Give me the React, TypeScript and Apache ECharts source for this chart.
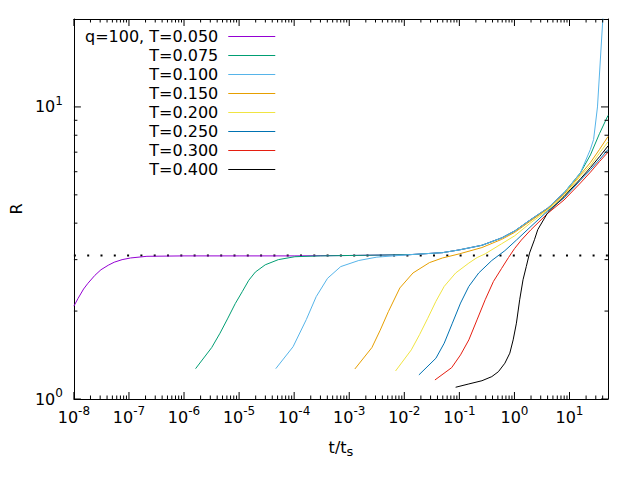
import React, { useEffect, useRef } from "react";
import * as echarts from "echarts";

const X_MIN = 1e-8;
const X_MAX = 50;
const Y_MIN = 1;
const Y_MAX = 20;
const R_LIMIT = 3.1;

const FONT = "DejaVu Sans";

const seriesNames = [
  "q=100, T=0.050",
  "T=0.075",
  "T=0.100",
  "T=0.150",
  "T=0.200",
  "T=0.250",
  "T=0.300",
  "T=0.400",
];
const seriesColors = [
  "#9400d3",
  "#009e73",
  "#56b4e9",
  "#e69f00",
  "#f0e442",
  "#0072b2",
  "#e51e10",
  "#000000",
];

const curveT050: [number, number][] = [
  [1e-8, 2.08], [1.19e-8, 2.21], [1.5e-8, 2.38], [1.8e-8, 2.49], [2.4e-8, 2.65],
  [3.1e-8, 2.77], [4.2e-8, 2.87], [5.4e-8, 2.94], [7.5e-8, 3.0], [1.07e-7, 3.04],
  [2.12e-7, 3.08], [1e-6, 3.09], [1e-5, 3.09], [1e-4, 3.09], [1e-3, 3.1],
  [0.0125, 3.12], [0.0494, 3.17], [0.1, 3.24], [0.257, 3.36], [0.585, 3.56],
  [1.01, 3.76], [2.0, 4.12], [4.01, 4.5], [7.94, 5.08],
];
const curveT075: [number, number][] = [
  [1.62e-6, 1.27], [3.18e-6, 1.5], [4.5e-6, 1.68], [6.15e-6, 1.88], [8.5e-6, 2.12],
  [1.14e-5, 2.33], [1.5e-5, 2.55], [1.97e-5, 2.72], [2.98e-5, 2.88], [5.15e-5, 3.0],
  [1.03e-4, 3.07], [3e-4, 3.09], [1e-3, 3.1], [0.0125, 3.12], [0.0494, 3.17],
  [0.1, 3.24], [0.257, 3.36], [0.585, 3.56], [1.01, 3.76], [2.0, 4.12], [4.01, 4.5],
  [7.94, 5.08], [15.8, 5.95], [24, 6.85], [35, 8.1], [50, 9.35],
];
const curveT100: [number, number][] = [
  [4.63e-5, 1.27], [9.55e-5, 1.51], [1.66e-4, 1.87], [2.51e-4, 2.24], [4.04e-4, 2.59],
  [7.0e-4, 2.84], [1.49e-3, 2.98], [3.17e-3, 3.06], [0.0125, 3.12], [0.0494, 3.17],
  [0.1, 3.24], [0.257, 3.36], [0.585, 3.56], [1.01, 3.76], [2.0, 4.12], [4.01, 4.5],
  [7.94, 5.08], [15.8, 5.95], [23.9, 7.15], [27.4, 7.74], [32.2, 10], [40.3, 20], [43, 30],
];
const curveT150: [number, number][] = [
  [1.265e-3, 1.267], [2.58e-3, 1.5], [3.65e-3, 1.72], [5.13e-3, 1.99], [8.3e-3, 2.4],
  [0.01435, 2.7], [0.02858, 2.93], [0.0494, 3.04], [0.1, 3.14], [0.257, 3.3],
  [0.585, 3.52], [1.01, 3.72], [2.0, 4.08], [4.01, 4.47], [7.94, 5.02], [15.8, 5.87],
  [24, 6.45], [35, 7.15], [50, 7.92],
];
const curveT200: [number, number][] = [
  [6.93e-3, 1.247], [0.0134, 1.473], [0.0189, 1.66], [0.02667, 1.89], [0.0375, 2.16],
  [0.0531, 2.43], [0.0855, 2.7], [0.1486, 2.92], [0.21, 3.05], [0.294, 3.14],
  [0.585, 3.4], [1.01, 3.62], [2.0, 4.02], [4.01, 4.43], [7.94, 4.96], [15.8, 5.8],
  [24, 6.3], [35, 6.95], [50, 7.6],
];
const curveT250: [number, number][] = [
  [0.0184, 1.209], [0.0375, 1.379], [0.0531, 1.553], [0.0746, 1.818], [0.105, 2.13],
  [0.1486, 2.43], [0.2244, 2.7], [0.388, 2.98], [0.67, 3.22], [1.086, 3.5],
  [2.0, 3.9], [4.01, 4.4], [7.94, 4.88], [15.8, 5.61], [24, 6.1], [35, 6.6], [50, 7.15],
];
const curveT300: [number, number][] = [
  [0.036, 1.162], [0.0724, 1.28], [0.105, 1.416], [0.1486, 1.594], [0.209, 1.866],
  [0.294, 2.186], [0.416, 2.527], [0.585, 2.8], [0.78, 3.05], [1.0, 3.27],
  [1.334, 3.5], [2.0, 3.8], [4.01, 4.32], [7.94, 4.8], [15.8, 5.49], [24, 5.98],
  [35, 6.5], [50, 7.0],
];
const curveT400: [number, number][] = [
  [0.0855, 1.097], [0.1486, 1.126], [0.257, 1.155], [0.388, 1.193], [0.511, 1.24],
  [0.67, 1.326], [0.824, 1.435], [0.948, 1.594], [1.086, 1.818], [1.245, 2.186],
  [1.432, 2.56], [1.64, 2.84], [1.88, 3.16], [2.31, 3.51], [2.65, 3.8], [4.01, 4.34],
  [7.94, 4.93], [15.8, 5.67], [24, 6.2], [35, 6.75], [50, 7.35],
];

const curves = [curveT050, curveT075, curveT100, curveT150, curveT200, curveT250, curveT300, curveT400];

const limitLine: [number, number][] = [
  [X_MIN, R_LIMIT],
  [X_MAX, R_LIMIT],
];

const xDecades = [-8, -7, -6, -5, -4, -3, -2, -1, 0, 1];
const yDecades = [0, 1];
const minorMultipliers = [2, 3, 4, 5, 6, 7, 8, 9];

function buildTicks() {
  const out: number[][] = [];
  for (const e of xDecades) {
    const base = Math.pow(10, e);
    out.push([base, Y_MIN, 0, 1]);
    for (const m of minorMultipliers) {
      const v = m * base;
      if (v < X_MAX) out.push([v, Y_MIN, 0, 0]);
    }
  }
  for (const e of yDecades) {
    const base = Math.pow(10, e);
    out.push([X_MIN, base, 1, 1]);
    for (const m of minorMultipliers) {
      const v = m * base;
      if (v < Y_MAX) out.push([X_MIN, v, 1, 0]);
    }
  }
  return out;
}

const expFormatter = (v: number) => {
  const e = Math.round(Math.log10(v));
  return `{b|10}{s|${e}}`;
};

const labelRich = {
  b: { fontSize: 16, fontFamily: FONT, color: "#000" },
  s: { fontSize: 12, fontFamily: FONT, color: "#000", padding: [0, 0, 12, 0] },
};

export default function App() {
  const ref = useRef<HTMLDivElement>(null);
  useEffect(() => {
    const chart = echarts.init(ref.current!, null, { renderer: "svg" });
    const tickData = buildTicks();
    const option: any = {
      animation: false,
      backgroundColor: "#fff",
      textStyle: { fontFamily: FONT, color: "#000" },
      grid: { left: 66, right: 32, top: 19, bottom: 81, containLabel: false },
      legend: {
        orient: "vertical",
        left: 85,
        top: 28.5,
        padding: 0,
        itemGap: 3,
        itemWidth: 47,
        itemHeight: 1,
        icon: "rect",
        align: "right",
        selectedMode: false,
        data: seriesNames,
        formatter: (name: string) => `{a|${name}}`,
        textStyle: {
          fontFamily: FONT,
          fontSize: 16,
          color: "#000",
          rich: {
            a: {
              width: 133,
              align: "right",
              fontSize: 16,
              fontFamily: FONT,
              color: "#000",
              padding: [0, 5, 0, 0],
            },
          },
        },
      },
      xAxis: [
        {
          type: "log",
          logBase: 10,
          min: X_MIN,
          max: X_MAX,
          position: "bottom",
          axisLine: { show: true, lineStyle: { color: "#000", width: 1 } },
          axisTick: { show: false },
          splitLine: { show: false },
          axisLabel: {
            margin: 6,
            showMaxLabel: false,
            formatter: expFormatter,
            rich: labelRich,
          },
          name: "{n|t/t}{u|s}",
          nameLocation: "middle",
          nameGap: 38,
          nameTextStyle: {
            rich: {
              n: { fontSize: 16, fontFamily: FONT, color: "#000" },
              u: { fontSize: 13, fontFamily: FONT, color: "#000", padding: [8, 0, 0, 0] },
            },
          },
        },
        {
          type: "log",
          logBase: 10,
          min: X_MIN,
          max: X_MAX,
          position: "top",
          axisLine: { show: true, lineStyle: { color: "#000", width: 1 } },
          axisTick: { show: false },
          axisLabel: { show: false },
          splitLine: { show: false },
        },
      ],
      yAxis: [
        {
          type: "log",
          logBase: 10,
          min: Y_MIN,
          max: Y_MAX,
          position: "left",
          axisLine: { show: true, lineStyle: { color: "#000", width: 1 } },
          axisTick: { show: false },
          splitLine: { show: false },
          axisLabel: {
            margin: 11,
            showMaxLabel: false,
            formatter: expFormatter,
            rich: labelRich,
          },
          name: "R",
          nameLocation: "middle",
          nameGap: 40,
          nameRotate: 90,
          nameTextStyle: { fontSize: 16, fontFamily: FONT, color: "#000" },
        },
        {
          type: "log",
          logBase: 10,
          min: Y_MIN,
          max: Y_MAX,
          position: "right",
          axisLine: { show: true, lineStyle: { color: "#000", width: 1 } },
          axisTick: { show: false },
          axisLabel: { show: false },
          splitLine: { show: false },
        },
      ],
      series: [
        {
          type: "custom",
          name: "ticks",
          silent: true,
          coordinateSystem: "cartesian2d",
          encode: { x: 0, y: 1 },
          data: tickData,
          z: 5,
          renderItem: (params: any, api: any) => {
            const kind = api.value(2);
            const major = api.value(3);
            const len = major ? 7 : 3.5;
            const st = { stroke: "#000", lineWidth: 1 };
            if (kind === 0) {
              const v = api.value(0);
              const pb = api.coord([v, Y_MIN]);
              const pt = api.coord([v, Y_MAX]);
              return {
                type: "group",
                children: [
                  { type: "line", shape: { x1: pb[0], y1: pb[1], x2: pb[0], y2: pb[1] - len }, style: st },
                  { type: "line", shape: { x1: pt[0], y1: pt[1], x2: pt[0], y2: pt[1] + len }, style: st },
                ],
              };
            }
            const v = api.value(1);
            const pl = api.coord([X_MIN, v]);
            const pr = api.coord([X_MAX, v]);
            return {
              type: "group",
              children: [
                { type: "line", shape: { x1: pl[0], y1: pl[1], x2: pl[0] + len, y2: pl[1] }, style: st },
                { type: "line", shape: { x1: pr[0], y1: pr[1], x2: pr[0] - len, y2: pr[1] }, style: st },
              ],
            };
          },
        },
        {
          type: "line",
          name: "limit",
          data: limitLine,
          symbol: "none",
          silent: true,
          lineStyle: { color: "#000", width: 2, type: [2, 11.3] },
          z: 1,
        },
        ...curves.map((d, i) => ({
          type: "line",
          name: seriesNames[i],
          data: d,
          symbol: "none",
          showSymbol: false,
          clip: true,
          color: seriesColors[i],
          lineStyle: { color: seriesColors[i], width: 1 },
          z: 2,
        })),
      ],
    };
    chart.setOption(option);
    return () => chart.dispose();
  }, []);
  return (
    <div
      ref={ref}
      style={{ position: "fixed", left: 0, top: 0, width: 640, height: 480, background: "#fff" }}
    />
  );
}
